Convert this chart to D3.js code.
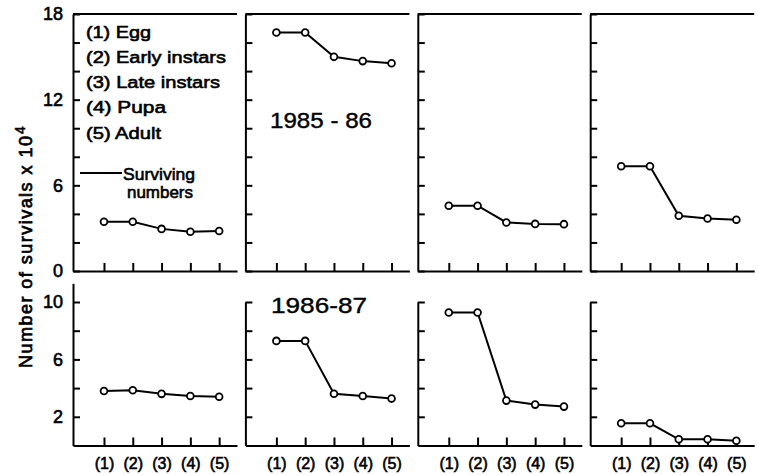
<!DOCTYPE html>
<html>
<head>
<meta charset="utf-8">
<script src="https://cdn.jsdelivr.net/npm/d3@7"></script>
<style>
  body { margin: 0; background: #fff; }
  svg { display: block; font-family: "Liberation Sans", Arial, sans-serif; }
  .axis path, .axis line { stroke: #000; stroke-width: 2; }
  .axis text { fill: #000; font-family: "Liberation Sans", Arial, sans-serif; }
</style>
</head>
<body>
<div id="chart"></div>
<script>
// life stages on x axis
var stages = [1, 2, 3, 4, 5];
var stageLabels = ['(1)', '(2)', '(3)', '(4)', '(5)'];
var legendLabels = ['(1) Egg', '(2) Early instars', '(3) Late instars', '(4) Pupa', '(5) Adult'];
var years = ['1985 - 86', '1986-87'];

// surviving numbers x 10^4, one array per panel (4 sites)
var surv1985 = [
  [3.45, 3.45, 2.95, 2.75, 2.8],
  [16.7, 16.7, 15.0, 14.7, 14.55],
  [4.57, 4.57, 3.4, 3.3, 3.28],
  [7.34, 7.34, 3.87, 3.68, 3.59]
];
var surv1986 = [
  [3.8, 3.85, 3.6, 3.45, 3.4],
  [7.29, 7.29, 3.61, 3.45, 3.27],
  [9.27, 9.27, 3.13, 2.85, 2.71],
  [1.55, 1.55, 0.43, 0.43, 0.33]
];

var topTicks = [2, 4, 6, 8, 10, 12, 14, 16, 18];
var topLabels = [0, 6, 12, 18];
var botTicks = [2, 4, 6, 8, 10];
var botLabels = [2, 6, 10];

var W = 759, H = 475;
var svg = d3.select('#chart').append('svg')
  .attr('width', W)
  .attr('height', H);

var panelW = 164;
var lefts = d3.range(4).map(function(i) { return 73 + i * 172.4; });

var yTop = d3.scaleLinear().domain([0, 18]).range([271, 14]);
var yBot = d3.scaleLinear().domain([0, 10]).range([445.5, 302]);

function drawPanel(i, data, yScale, row) {
  var left = lefts[i];
  var x = d3.scaleLinear().domain([-0.076, 5.62]).range([left, left + panelW]);
  var g = svg.append('g');

  // x axis (ticks point inward)
  var xAxis = d3.axisBottom(x)
    .tickValues(stages)
    .tickSizeInner(-8)
    .tickSizeOuter(0)
    .tickPadding(12)
    .tickFormat(function(d) { return row == 1 ? stageLabels[d - 1] : ''; });
  var xg = g.append('g')
    .attr('class', 'axis')
    .attr('transform', 'translate(0,' + yScale(0) + ')')
    .call(xAxis);
  xg.selectAll('text').style('font-size', '16px').attr('stroke', '#000').attr('stroke-width', 0.6);

  // y axis
  var ys = yScale;
  if (row == 1 && i == 0) {
    ys = yScale.copy().domain([0, 11.3]).range([yScale(0), yScale(11.3)]);
  }
  var ticks = row == 0 ? topTicks : botTicks;
  var labels = row == 0 ? topLabels : botLabels;
  var yAxis = d3.axisLeft(ys)
    .tickValues(row == 0 ? [0].concat(ticks) : ticks)
    .tickSizeInner(-7)
    .tickSizeOuter(0)
    .tickPadding(10)
    .tickFormat(function(d) { return (i == 0 && labels.indexOf(d) > -1) ? d : ''; });
  var yg = g.append('g')
    .attr('class', 'axis')
    .attr('transform', 'translate(' + left + ',0)')
    .call(yAxis);
  yg.selectAll('text').style('font-size', '18px').attr('stroke', '#000').attr('stroke-width', 0.6);

  // top frame line for upper row
  if (row == 0) {
    g.append('line')
      .attr('x1', left).attr('x2', left + panelW)
      .attr('y1', yScale(18)).attr('y2', yScale(18))
      .attr('stroke', '#000').attr('stroke-width', 2);
  }

  var line = d3.line()
    .x(function(d, k) { return x(stages[k]); })
    .y(function(d) { return yScale(d); });

  g.append('path')
    .datum(data)
    .attr('d', line)
    .attr('fill', 'none')
    .attr('stroke', '#000')
    .attr('stroke-width', 2);

  g.selectAll('circle')
    .data(data)
  .enter().append('circle')
    .attr('cx', function(d, k) { return x(stages[k]); })
    .attr('cy', function(d) { return yScale(d); })
    .attr('r', 3.4)
    .attr('fill', '#fff')
    .attr('stroke', '#000')
    .attr('stroke-width', 1.8);
}

surv1985.forEach(function(d, i) { drawPanel(i, d, yTop, 0); });
surv1986.forEach(function(d, i) { drawPanel(i, d, yBot, 1); });

// legend in first panel
var legendW = [65, 140, 134, 80, 75];
svg.selectAll('text.leg')
  .data(legendLabels)
.enter().append('text')
  .classed('leg', true)
  .attr('x', 86)
  .attr('y', function(d, i) { return 37.5 + i * 25.3; })
  .attr('textLength', function(d, i) { return legendW[i]; })
  .attr('lengthAdjust', 'spacingAndGlyphs')
  .style('font-size', '17px')
  .attr('stroke', '#000').attr('stroke-width', 0.6)
  .text(function(d) { return d; });

svg.append('line')
  .attr('x1', 80).attr('x2', 122)
  .attr('y1', 173).attr('y2', 173)
  .attr('stroke', '#000').attr('stroke-width', 2);
svg.append('text')
  .attr('x', 123).attr('y', 180)
  .attr('textLength', 72)
  .attr('lengthAdjust', 'spacingAndGlyphs')
  .style('font-size', '17px')
  .attr('stroke', '#000').attr('stroke-width', 0.6)
  .text('Surviving');
svg.append('text')
  .attr('x', 127).attr('y', 198)
  .attr('textLength', 66)
  .attr('lengthAdjust', 'spacingAndGlyphs')
  .style('font-size', '17px')
  .attr('stroke', '#000').attr('stroke-width', 0.6)
  .text('numbers');

// year labels
svg.append('text')
  .attr('x', 270).attr('y', 128)
  .attr('textLength', 102)
  .attr('lengthAdjust', 'spacingAndGlyphs')
  .style('font-size', '22px')
  .attr('stroke', '#000').attr('stroke-width', 0.4)
  .text(years[0]);
svg.append('text')
  .attr('x', 271).attr('y', 313)
  .attr('textLength', 96)
  .attr('lengthAdjust', 'spacingAndGlyphs')
  .style('font-size', '22px')
  .attr('stroke', '#000').attr('stroke-width', 0.4)
  .text(years[1]);

// y title
svg.append('text')
  .attr('transform', 'rotate(-90)')
  .attr('x', -368).attr('y', 32)
  .attr('textLength', 232)
  .style('font-size', '18px')
  .attr('stroke', '#000').attr('stroke-width', 0.7)
  .text('Number of survivals  x 10');
svg.append('text')
  .attr('transform', 'rotate(-90)')
  .attr('x', -134).attr('y', 25)
  .style('font-size', '14px')
  .attr('stroke', '#000').attr('stroke-width', 0.5)
  .text('4');
</script>
</body>
</html>
